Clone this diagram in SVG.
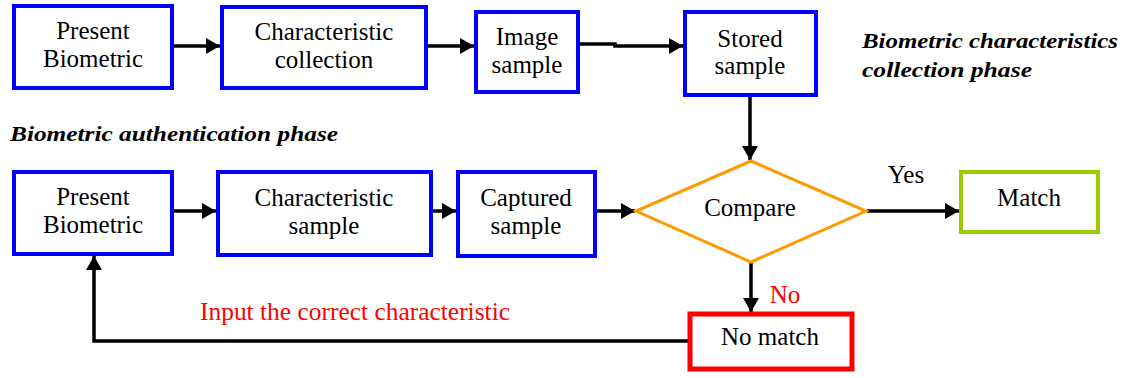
<svg xmlns="http://www.w3.org/2000/svg" width="1133" height="378" viewBox="0 0 1133 378">
<defs>
<marker id="ah" markerUnits="userSpaceOnUse" markerWidth="16" markerHeight="18" refX="14" refY="9" orient="auto">
<path d="M0,1 L14,9 L0,17 Z" fill="#000"/>
</marker>
</defs>
<rect width="1133" height="378" fill="#fff"/>
<g id="connectors" fill="none" stroke="#000" stroke-width="3.5">
<line x1="174" y1="46" x2="220" y2="46" marker-end="url(#ah)"/>
<line x1="428" y1="46" x2="474" y2="46" marker-end="url(#ah)"/>
<polyline points="580,44 615,44 615,46 683,46" marker-end="url(#ah)"/>
<line x1="750" y1="97" x2="750" y2="160" marker-end="url(#ah)"/>
<line x1="174" y1="211" x2="216" y2="211" marker-end="url(#ah)"/>
<line x1="433" y1="211" x2="456" y2="211" marker-end="url(#ah)"/>
<line x1="597" y1="211" x2="635" y2="211" marker-end="url(#ah)"/>
<line x1="867" y1="211" x2="959" y2="211" marker-end="url(#ah)"/>
<line x1="751" y1="263" x2="751" y2="312" marker-end="url(#ah)"/>
<polyline points="688,341 94,341 94,256" marker-end="url(#ah)"/>
</g>
<g font-family="Liberation Serif" font-size="25" text-anchor="middle" fill="#000">
<g id="present1"><rect x="14" y="6" width="158" height="82" fill="#fff" stroke="#0000ff" stroke-width="4"/><text font-family="Liberation Serif" x="93" y="39">Present</text><text font-family="Liberation Serif" x="93" y="67">Biometric</text></g>
<g id="charcollect"><rect x="222" y="7" width="204" height="81" fill="#fff" stroke="#0000ff" stroke-width="4"/><text font-family="Liberation Serif" x="324" y="40">Characteristic</text><text font-family="Liberation Serif" x="324" y="68">collection</text></g>
<g id="image"><rect x="476" y="12" width="102" height="80" fill="#fff" stroke="#0000ff" stroke-width="4"/><text font-family="Liberation Serif" x="527" y="45">Image</text><text font-family="Liberation Serif" x="527" y="73">sample</text></g>
<g id="stored"><rect x="685" y="12" width="131" height="83" fill="#fff" stroke="#0000ff" stroke-width="4"/><text font-family="Liberation Serif" x="750" y="47">Stored</text><text font-family="Liberation Serif" x="750" y="74">sample</text></g>
<g id="phase1" font-weight="bold" font-style="italic" font-size="22" text-anchor="start"><text font-family="Liberation Serif" x="862" y="48" textLength="256" lengthAdjust="spacingAndGlyphs">Biometric characteristics</text><text font-family="Liberation Serif" x="862" y="77" textLength="170" lengthAdjust="spacingAndGlyphs">collection phase</text></g>
<g id="phase2" font-weight="bold" font-style="italic" font-size="22" text-anchor="start"><text font-family="Liberation Serif" x="10" y="141" textLength="328" lengthAdjust="spacingAndGlyphs">Biometric  authentication phase</text></g>
<g id="present2"><rect x="14" y="172" width="158" height="82" fill="#fff" stroke="#0000ff" stroke-width="4"/><text font-family="Liberation Serif" x="93" y="205">Present</text><text font-family="Liberation Serif" x="93" y="233">Biometric</text></g>
<g id="charsample"><rect x="218" y="172" width="213" height="83" fill="#fff" stroke="#0000ff" stroke-width="4"/><text font-family="Liberation Serif" x="324" y="206">Characteristic</text><text font-family="Liberation Serif" x="324" y="234">sample</text></g>
<g id="captured"><rect x="458" y="172" width="137" height="84" fill="#fff" stroke="#0000ff" stroke-width="4"/><text font-family="Liberation Serif" x="526" y="206">Captured</text><text font-family="Liberation Serif" x="526" y="234">sample</text></g>
<g id="compare"><polygon points="751,161 866,211 751,262 636,211" fill="#fff" stroke="#ff9900" stroke-width="3"/><text font-family="Liberation Serif" x="750" y="216">Compare</text></g>
<g id="match"><rect x="961" y="172" width="137" height="60" fill="#fff" stroke="#99cc00" stroke-width="4"/><text font-family="Liberation Serif" x="1029" y="206">Match</text></g>
<g id="nomatch"><rect x="690" y="314" width="162" height="55" fill="#fff" stroke="#ff0000" stroke-width="5"/><text font-family="Liberation Serif" x="770" y="345">No match</text></g>
<g id="labels"><text font-family="Liberation Serif" x="906" y="183">Yes</text><text font-family="Liberation Serif" fill="#ff0000" x="785" y="303">No</text><text font-family="Liberation Serif" fill="#ff0000" x="355" y="320" textLength="310" lengthAdjust="spacingAndGlyphs">Input the correct characteristic</text></g>
</g>
</svg>
